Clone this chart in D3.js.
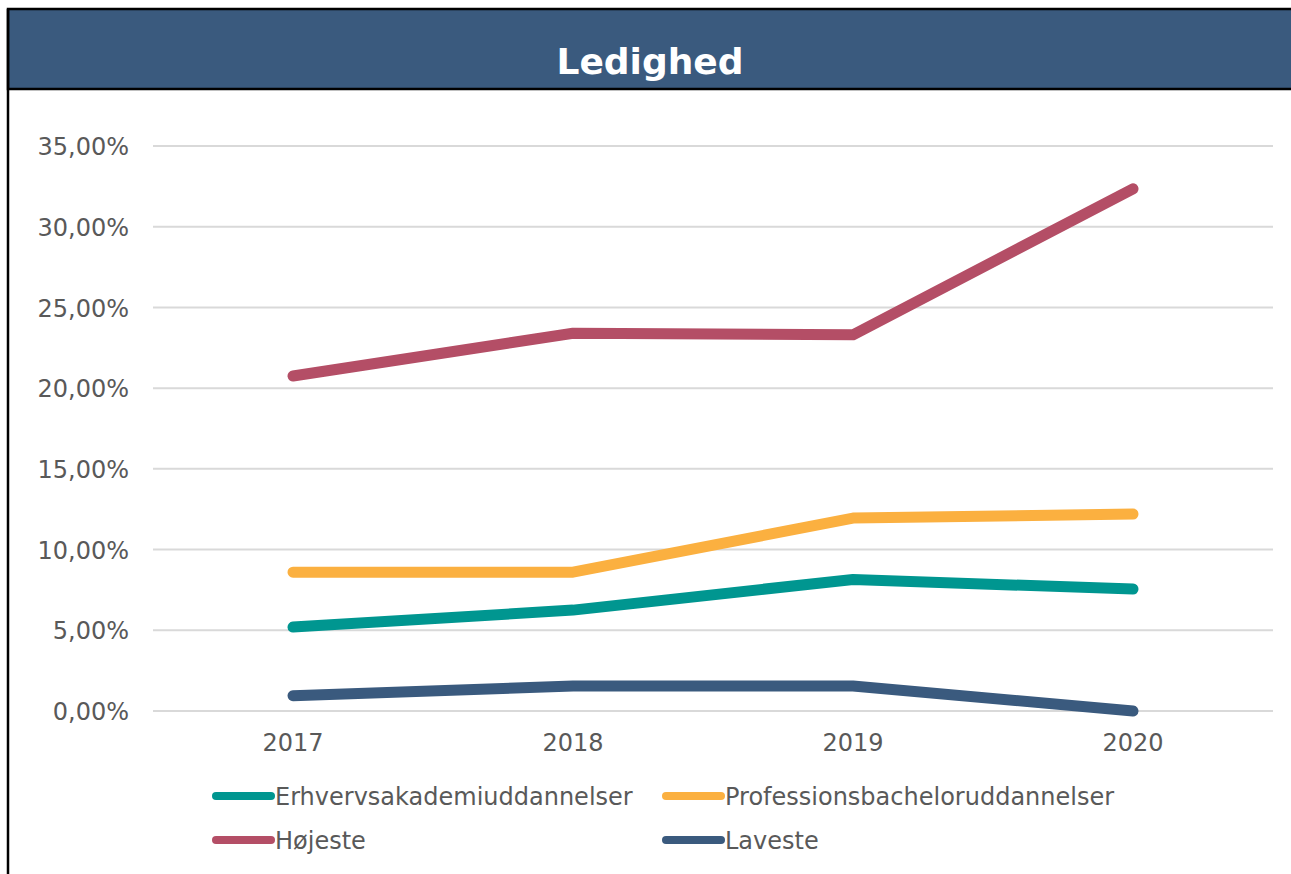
<!DOCTYPE html>
<html>
<head>
<meta charset="utf-8">
<script src="https://cdn.jsdelivr.net/npm/d3@7"></script>
<style>
  body { margin: 0; background: #fff; }
  svg { display: block; }
  .tick text { font-family: "DejaVu Sans", Verdana, sans-serif; fill: #595959; }
</style>
</head>
<body>
<script>
var years = ["2017", "2018", "2019", "2020"]
var seriesNames = ["Erhvervsakademiuddannelser", "Professionsbacheloruddannelser", "Højeste", "Laveste"]
var erhverv = [5.2, 6.25, 8.15, 7.55]
var profession = [8.6, 8.6, 11.95, 12.2]
var hojeste = [20.75, 23.4, 23.3, 32.35]
var laveste = [0.95, 1.55, 1.55, 0.0]
var yTicks = [0, 5, 10, 15, 20, 25, 30, 35]
var colors = ["#009690", "#fbb040", "#b44e66", "#3a5a7e"]

var width = 1291, height = 874

var svg = d3.select("body").append("svg")
  .attr("width", width)
  .attr("height", height)

// header band + frame
svg.append("rect")
  .attr("x", 8).attr("y", 9)
  .attr("width", width).attr("height", 80)
  .attr("fill", "#3a5a7e")
  .attr("stroke", "#000")
  .attr("stroke-width", 2.5)
svg.append("line")
  .attr("x1", 8).attr("x2", 8)
  .attr("y1", 9).attr("y2", height)
  .attr("stroke", "#000").attr("stroke-width", 2.5)

svg.append("text")
  .attr("x", 650).attr("y", 74)
  .attr("text-anchor", "middle")
  .attr("font-family", "DejaVu Sans, Verdana, sans-serif")
  .attr("font-weight", "bold")
  .attr("font-size", 36)
  .attr("fill", "#fff")
  .text("Ledighed")

var plotLeft = 153, plotRight = 1273, plotTop = 146, plotBottom = 711

var x = d3.scaleBand().domain(years).range([plotLeft, plotRight])
var y = d3.scaleLinear().domain([0, 35]).range([plotBottom, plotTop])

// grid
svg.append("g")
  .selectAll("line")
  .data(yTicks)
  .enter()
  .append("line")
  .attr("x1", plotLeft).attr("x2", plotRight)
  .attr("y1", function(d) { return y(d) })
  .attr("y2", function(d) { return y(d) })
  .attr("stroke", "#d9d9d9")
  .attr("stroke-width", 2)

var fmt = function(d) { return d3.format(".2f")(d).replace(".", ",") + "%" }

var yAxis = svg.append("g")
  .attr("transform", "translate(" + (plotLeft - 24) + ",0)")
  .call(d3.axisLeft(y).tickValues(yTicks).tickFormat(fmt).tickSize(0).tickPadding(0))
yAxis.select(".domain").remove()
yAxis.selectAll("text").attr("font-size", 24).attr("dy", "0.36em")

var xAxis = svg.append("g")
  .attr("transform", "translate(0," + (plotBottom + 20) + ")")
  .call(d3.axisBottom(x).tickSize(0).tickPadding(0))
xAxis.select(".domain").remove()
xAxis.selectAll("text").attr("font-size", 24).attr("dy", "0.85em")

var allSeries = [erhverv, profession, hojeste, laveste]

var line = d3.line()
  .x(function(d, i) { return x(years[i]) + x.bandwidth() / 2 })
  .y(function(d) { return y(d) })

svg.append("g")
  .selectAll("path")
  .data(allSeries)
  .enter()
  .append("path")
  .attr("d", function(d) { return line(d) })
  .attr("fill", "none")
  .attr("stroke", function(d, i) { return colors[i] })
  .attr("stroke-width", 11)
  .attr("stroke-linecap", "round")
  .attr("stroke-linejoin", "round")

// legend
var legendPos = [[216, 796], [666, 796], [216, 840], [666, 840]]

var legend = svg.append("g")
  .selectAll("g")
  .data(seriesNames)
  .enter()
  .append("g")
  .attr("transform", function(d, i) { return "translate(" + legendPos[i][0] + "," + legendPos[i][1] + ")" })

legend.append("line")
  .attr("x1", 0).attr("x2", 55)
  .attr("stroke", function(d, i) { return colors[i] })
  .attr("stroke-width", 8)
  .attr("stroke-linecap", "round")

legend.append("text")
  .attr("x", 59)
  .attr("dy", "0.36em")
  .attr("font-family", "DejaVu Sans, Verdana, sans-serif")
  .attr("font-size", 24)
  .attr("fill", "#595959")
  .text(function(d) { return d })
</script>
</body>
</html>
